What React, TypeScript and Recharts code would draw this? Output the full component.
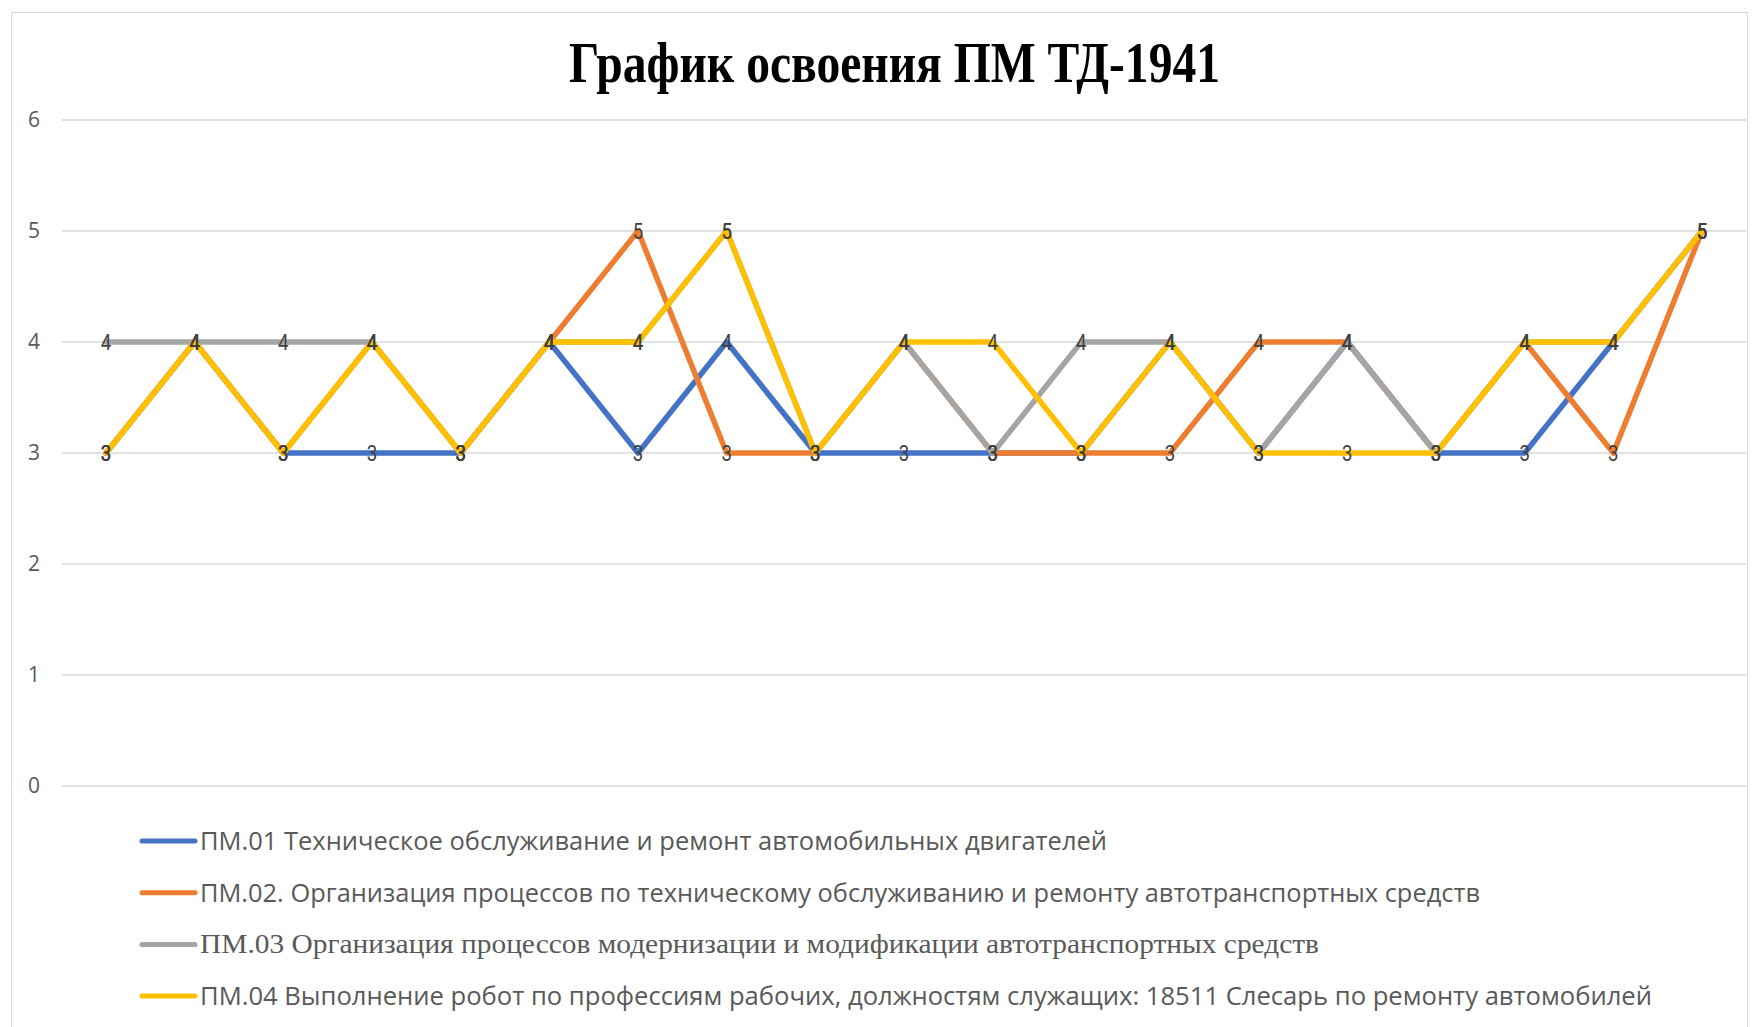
import React from "react";
import {
  LineChart,
  Line,
  XAxis,
  YAxis,
  CartesianGrid,
  Legend,
  LabelList,
} from "recharts";

document.body.style.margin = "0";

// 19 позиций по оси X (подписей у категорий нет)
const categories = [
  "1", "2", "3", "4", "5", "6", "7", "8", "9", "10",
  "11", "12", "13", "14", "15", "16", "17", "18", "19",
];

const pm01 = [3, 4, 3, 3, 3, 4, 3, 4, 3, 3, 3, 3, 4, 3, 4, 3, 3, 4, 5];
const pm02 = [3, 4, 3, 4, 3, 4, 5, 3, 3, 4, 3, 3, 3, 4, 4, 3, 4, 3, 5];
const pm03 = [4, 4, 4, 4, 3, 4, 4, 5, 3, 4, 3, 4, 4, 3, 4, 3, 4, 4, 5];
const pm04 = [3, 4, 3, 4, 3, 4, 4, 5, 3, 4, 4, 3, 4, 3, 3, 3, 4, 4, 5];

const yTicks = [0, 1, 2, 3, 4, 5, 6];

const seriesNames = {
  pm01: "ПМ.01 Техническое обслуживание и ремонт автомобильных двигателей",
  pm02: "ПМ.02. Организация процессов по техническому обслуживанию и ремонту автотранспортных средств",
  pm03: "ПМ.03 Организация процессов модернизации и модификации автотранспортных средств",
  pm04: "ПМ.04 Выполнение робот по профессиям рабочих, должностям служащих: 18511 Слесарь по ремонту автомобилей",
};

const data = categories.map((c, i) => ({
  name: c,
  pm01: pm01[i],
  pm02: pm02[i],
  pm03: pm03[i],
  pm04: pm04[i],
}));

const COLORS = {
  pm01: "#4472C4",
  pm02: "#ED7D31",
  pm03: "#A5A5A5",
  pm04: "#FFC000",
};

// стиль подписей легенды (третья строка в оригинале набрана с засечками)
const legendText: Record<string, { font: string; size: number; len: number }> = {
  pm01: { font: "'Open Sans', sans-serif", size: 25, len: 907 },
  pm02: { font: "'Open Sans', sans-serif", size: 25, len: 1280 },
  pm03: { font: "'Liberation Serif', serif", size: 27, len: 1119 },
  pm04: { font: "'Open Sans', sans-serif", size: 25, len: 1452 },
};

const renderLegend = (props: any) => {
  const { payload = [] } = props;
  return (
    <svg width={1758} height={210} style={{ display: "block" }}>
      {payload.map((item: any, i: number) => {
        const key = item.dataKey as string;
        const st = legendText[key];
        const cy = 26 + i * 51.7;
        return (
          <g key={key}>
            <line
              x1={142}
              x2={195}
              y1={cy}
              y2={cy}
              stroke={item.color}
              strokeWidth={5}
              strokeLinecap="round"
            />
            <text
              x={200}
              y={cy + 9}
              fill="#595959"
              fontFamily={st.font}
              fontSize={st.size}
              textLength={st.len}
              lengthAdjust="spacingAndGlyphs"
            >
              {item.value}
            </text>
          </g>
        );
      })}
    </svg>
  );
};

// узкие подписи значений по центру точки
const renderValue = (props: any) => {
  const { x, y, value } = props;
  return (
    <text
      x={x}
      y={y}
      textAnchor="middle"
      dominantBaseline="central"
      fill="#404040"
      fontSize={22}
      fontFamily="Roboto, sans-serif"
      textLength={10.5}
      lengthAdjust="spacingAndGlyphs"
    >
      {value}
    </text>
  );
};

const keys = ["pm01", "pm02", "pm03", "pm04"] as const;

export default function App() {
  return (
    <div style={{ position: "relative", width: 1758, height: 1027, overflow: "hidden", background: "#fff" }}>
      <div
        style={{
          position: "absolute",
          left: 11,
          top: 12,
          width: 1737,
          height: 1030,
          border: "1px solid #d9d9d9",
          boxSizing: "border-box",
        }}
      />
      <svg
        width={1758}
        height={110}
        style={{ position: "absolute", left: 0, top: 0 }}
      >
        <text
          x={569}
          y={82}
          fontFamily="'Liberation Serif', 'Times New Roman', serif"
          fontWeight="bold"
          fontSize={58}
          fill="#000"
          textLength={651}
          lengthAdjust="spacingAndGlyphs"
        >
          График освоения ПМ ТД-1941
        </text>
      </svg>
      <div style={{ position: "absolute", left: 0, top: 0 }}>
        <LineChart
          width={1758}
          height={1027}
          data={data}
          margin={{ top: 120, right: 12, bottom: 241, left: 0 }}
        >
          <CartesianGrid vertical={false} stroke="#d9d9d9" strokeWidth={1.5} />
          <XAxis dataKey="name" hide padding={{ left: 44, right: 44 }} />
          <YAxis
            width={62}
            domain={[0, 6]}
            ticks={yTicks}
            axisLine={false}
            tickLine={false}
            tickMargin={16}
            tick={{ fill: "#595959", fontSize: 21, fontFamily: "'Open Sans', sans-serif" }}
          />
          <Legend
            layout="vertical"
            align="center"
            verticalAlign="middle"
            content={renderLegend}
            wrapperStyle={{ position: "absolute", left: 0, top: 815, width: 1758 }}
          />
          {keys.map((k) => (
            <Line
              key={k}
              type="linear"
              dataKey={k}
              name={seriesNames[k]}
              stroke={COLORS[k]}
              strokeWidth={5.5}
              strokeLinejoin="round"
              strokeLinecap="round"
              dot={false}
              activeDot={false}
              isAnimationActive={false}
            >
              <LabelList dataKey={k} content={renderValue} />
            </Line>
          ))}
        </LineChart>
      </div>
    </div>
  );
}
